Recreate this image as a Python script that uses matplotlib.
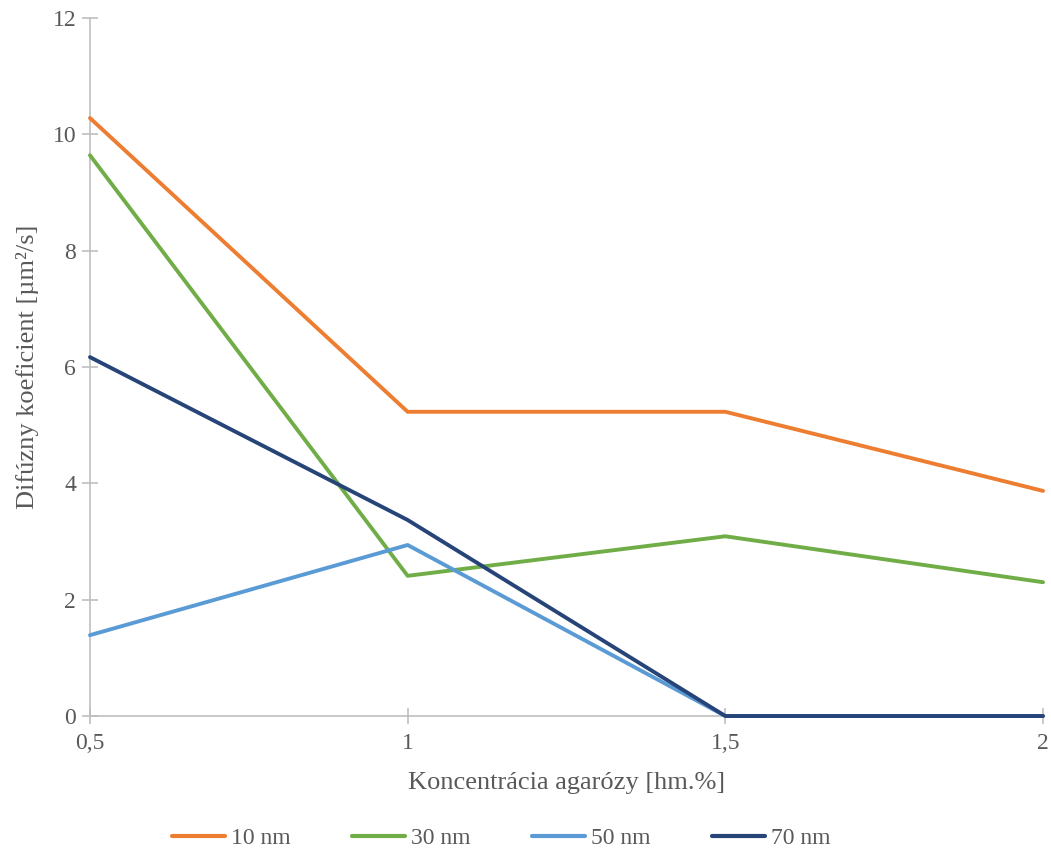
import matplotlib.pyplot as plt

koncentracia = [0.5, 1.0, 1.5, 2.0]
x_labels = ["0,5", "1", "1,5", "2"]
d_10nm = [10.28, 5.23, 5.23, 3.87]
d_30nm = [9.64, 2.41, 3.09, 2.30]
d_50nm = [1.39, 2.94, 0.0, 0.0]
d_70nm = [6.17, 3.37, 0.0, 0.0]

plt.rcParams["font.family"] = ["Liberation Serif", "DejaVu Serif"]

fig = plt.figure(figsize=(10.51, 8.52), dpi=100)
ax = fig.add_axes([0.0856, 0.1596, 0.9068, 0.8193])

series = [
    (d_10nm, "10 nm", "#ED7D31"),
    (d_30nm, "30 nm", "#70AD47"),
    (d_50nm, "50 nm", "#5B9BD5"),
    (d_70nm, "70 nm", "#264478"),
]
for vals, name, color in series:
    ax.plot(koncentracia, vals, color=color, lw=2.8, label=name,
            solid_capstyle="round", clip_on=False, zorder=3)

ax.set_xlim(0.5, 2.0)
ax.set_ylim(0, 12)
ax.set_xticks(koncentracia)
ax.set_xticklabels(x_labels)
ax.set_yticks(range(0, 13, 2))

for side in ["top", "right"]:
    ax.spines[side].set_visible(False)
for side in ["left", "bottom"]:
    ax.spines[side].set_color("#BFBFBF")
    ax.spines[side].set_linewidth(1.2)
ax.tick_params(direction="inout", length=12, width=1.2, color="#BFBFBF",
               labelcolor="#595959", labelsize=17)
ax.tick_params(axis="x", pad=6)
ax.tick_params(axis="y", pad=4)

ax.set_xlabel("Koncentrácia agarózy [hm.%]", fontsize=19, color="#595959", labelpad=13)
ax.set_ylabel("Difúzny koeficient [µm²/s]", fontsize=19, color="#595959", labelpad=10)

leg = fig.legend(loc="lower center", ncol=4, frameon=False, fontsize=17,
                 bbox_to_anchor=(0.477, -0.022), handlelength=2.25, handletextpad=0.25,
                 columnspacing=2.6)
for t in leg.get_texts():
    t.set_color("#595959")
for h in leg.get_lines():
    h.set_linewidth(3.0)

fig.savefig("out.png", dpi=100)
